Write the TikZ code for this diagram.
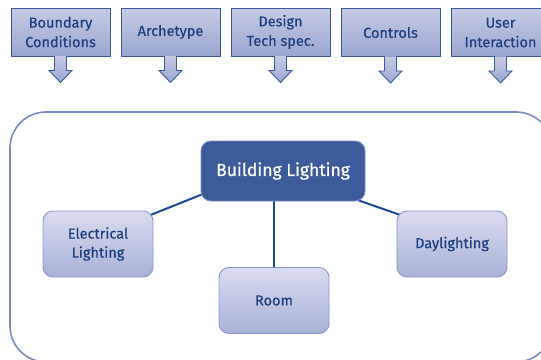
\documentclass[tikz,border=0pt]{standalone}
\usepackage{fontspec}
\setmainfont{Fira Sans}[FakeBold=0.5]
\usetikzlibrary{backgrounds}

\definecolor{inkblue}{HTML}{1F3F80}
\definecolor{topedge}{HTML}{3E5A9B}
\definecolor{toptop}{HTML}{C6CAE4}
\definecolor{topbot}{HTML}{9BA6D0}
\definecolor{lowedge}{HTML}{8A97C8}
\definecolor{lowtop}{HTML}{DADCF0}
\definecolor{lowbot}{HTML}{A8B0D6}
\definecolor{hubfill}{HTML}{3D5A9A}
\definecolor{hubedge}{HTML}{7F8FC3}
\definecolor{framecol}{HTML}{7C8AC0}
\definecolor{linkcol}{HTML}{1E4A95}

\tikzset{
  topbox/.style={draw=topedge, line width=0.9pt, top color=toptop, bottom color=topbot,
    minimum width=99pt, minimum height=48pt, inner sep=0pt, align=center,
    text=inkblue, font=\fontsize{14.5}{19.5}\selectfont},
  downarrow/.style={draw=topedge, line width=0.9pt, top color=toptop, bottom color=topbot},
  leafbox/.style={draw=lowedge, line width=0.9pt, top color=lowtop, bottom color=lowbot,
    rounded corners=10pt, minimum width=110pt, minimum height=66pt, inner sep=0pt,
    align=center, text=inkblue, font=\fontsize{14.5}{19}\selectfont},
  hubbox/.style={draw=hubedge, line width=0.9pt, fill=hubfill, rounded corners=10pt,
    minimum width=164pt, minimum height=60pt, inner sep=0pt, text=white,
    font=\fontsize{17.5}{20}\selectfont},
  link/.style={draw=linkcol, line width=2pt},
  frame/.style={draw=framecol, line width=1.6pt, rounded corners=36pt}
}

\begin{document}
\begin{tikzpicture}[x=1pt, y=-1pt]
\useasboundingbox (0,0) rectangle (541,359);
\clip (0,0) rectangle (541,359);

% input boxes along the top
\node[topbox] (bc) at (60.5,32) {Boundary\\Conditions};
\node[topbox] (ar) at (170.5,32) {\raisebox{-2pt}{Archetype}};
\node[topbox] (ds) at (280.5,32) {Design\\Tech spec.};
\node[topbox] (co) at (390.5,32.5) {\raisebox{-2pt}{Controls}};
\node[topbox] (ui) at (500.5,32.5) {User\\Interaction};

% block arrows pointing down from each input box
\foreach \n in {bc,ar,ds,co,ui}{
  \path[downarrow] ([shift={(-6,-0.5)}]\n.south) -- ++(0,14.5) -- ++(-5.5,0)
    -- ++(11.5,12) -- ++(11.5,-12) -- ++(-5.5,0) -- ++(0,-14.5);
}

% surrounding frame
\path[frame] (10,112) rectangle (552,362);

% lighting model
\node[hubbox] (bl) at (283,171) {Building Lighting};
\node[leafbox] (el) at (98,244) {Electrical\\Lighting};
\node[leafbox] (rm) at (274,300.5) {Room};
\node[leafbox] (dl) at (452,244) {Daylighting};

\begin{scope}[on background layer]
  \draw[link] ([yshift=8pt]el.center) -- ([yshift=9pt]bl.center);
  \draw[link] ([yshift=-3pt]bl.center) -- ([yshift=11pt]dl.center);
  \draw[link] (rm.north) -- (rm.north |- bl.south);
\end{scope}
\end{tikzpicture}
\end{document}
